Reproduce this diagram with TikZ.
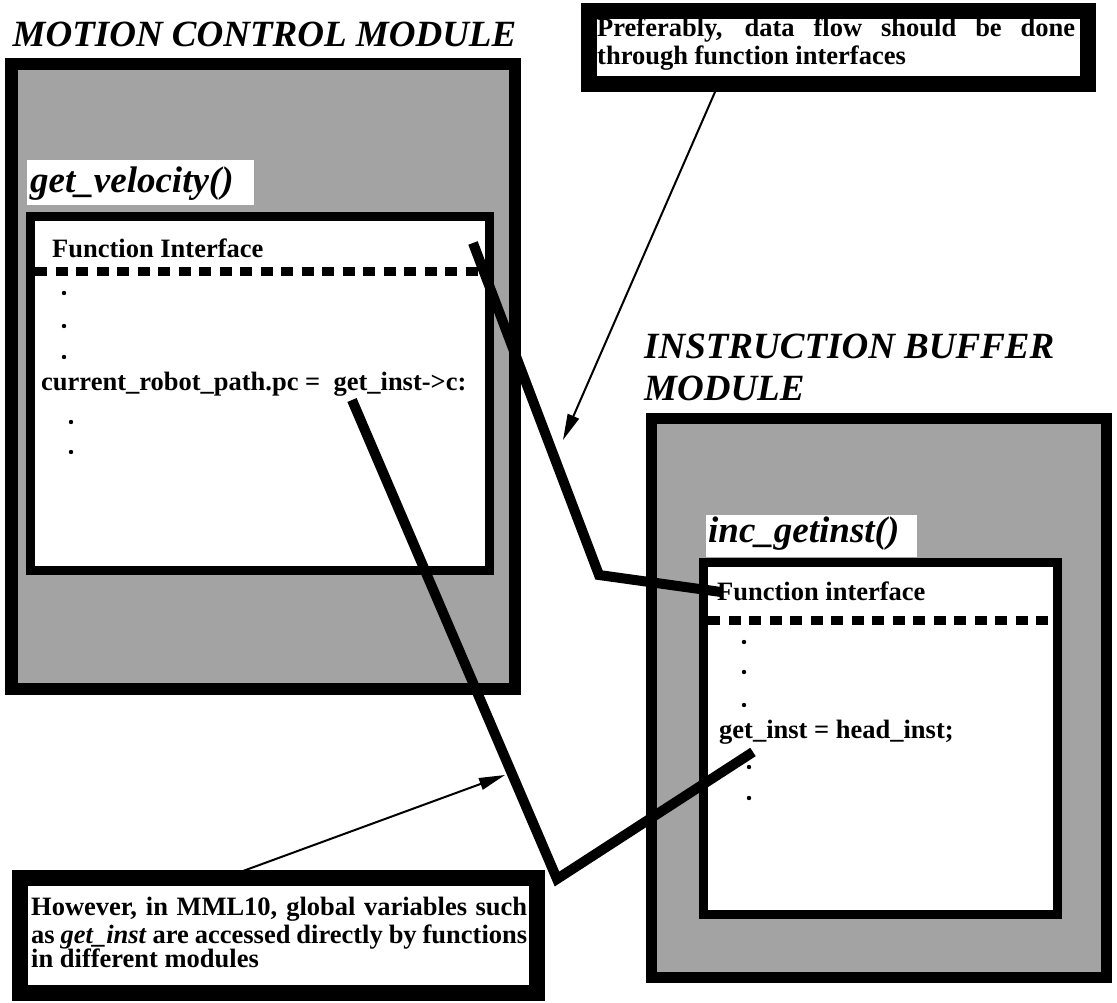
\documentclass[tikz,border=0pt]{standalone}
\usepackage{fontspec}
\setmainfont{Liberation Serif}
\usetikzlibrary{arrows.meta}
\definecolor{screen}{gray}{0.64}
\tikzset{
  x=1pt, y=-1pt,
  frame/.style={draw=black, fill=screen, inner sep=0pt, outer sep=0pt, anchor=north west},
  panel/.style={draw=black, fill=white, line width=9pt, inner sep=0pt, outer sep=0pt, anchor=north west},
  notebox/.style={draw=black, fill=white, line width=16pt, inner sep=0pt, outer sep=0pt, anchor=north west},
  heading/.style={anchor=base west, inner sep=0pt, font=\fontsize{37}{40}\selectfont\bfseries\itshape},
  body/.style={anchor=base west, inner sep=0pt, font=\fontsize{26.5}{28}\selectfont\bfseries},
  separator/.style={line width=9pt, dash pattern=on 12pt off 8.5pt},
  link/.style={line width=10pt, line join=miter},
  pointer/.style={line width=2pt, -{Triangle[length=26pt,width=12pt]}},
}
\begin{document}
\begin{tikzpicture}
\useasboundingbox (0,0) rectangle (1117,1003);
\fill[white] (0,0) rectangle (1117,1003);

% ---------- motion control module ----------
\node[heading] (mcm) at (12.5,47) {MOTION CONTROL MODULE};
\node[frame, line width=12.5pt, minimum width=503.5pt, minimum height=624.5pt] (mcbox) at (11.25,64.25) {};
\fill[white] (27,160) rectangle (254,205);
\node[heading] (gv) at (30,193) {get\_velocity()};
\node[panel, minimum width=459pt, minimum height=354pt] (gvbox) at (30.5,216.5) {};
\node[body] (fi1) at (52,258) {Function Interface};
\draw[separator] (35,272) -- (486,272);
\foreach \yy in {293,326,357} \fill (64,\yy) circle (2.2pt);
\node[body] (code1) at (41,390) {current\_robot\_path.pc =\ \ get\_inst->c:};
\foreach \yy in {422,452} \fill (71,\yy) circle (2.2pt);

% ---------- instruction buffer module ----------
\node[heading] (ibm1) at (644,358) {INSTRUCTION BUFFER};
\node[heading] (ibm2) at (644,400) {MODULE};
\node[frame, line width=11pt, minimum width=455pt, minimum height=559pt] (ibbox) at (651.5,418.5) {};
\fill[white] (706,515) rectangle (917,557);
\node[heading] (ig) at (708,542) {inc\_getinst()};
\node[panel, minimum width=354pt, minimum height=352pt] (igbox) at (703.5,562.5) {};
\node[body] (fi2) at (717,600) {Function interface};
\draw[separator] (708,620) -- (1054,620);
\foreach \yy in {642,672,705} \fill (744,\yy) circle (2.2pt);
\node[body] (code2) at (719,738) {get\_inst = head\_inst;};
\foreach \yy in {767,798} \fill (749,\yy) circle (2.2pt);

% ---------- explanatory notes ----------
\node[notebox, minimum width=499pt, minimum height=73pt] (pref) at (589,11) {};
\node[body] (pref1) at (597,37) {\makebox[478pt][s]{Preferably, data flow should be done}};
\node[body] (pref2) at (597,65) {through function interfaces};

\node[notebox, minimum width=517pt, minimum height=115pt] (how) at (20,878) {};
\node[body] (how1) at (31,915) {\makebox[496pt][s]{However, in MML10, global variables such}};
\node[body] (how2) at (31,943) {\makebox[496pt][s]{as \textit{get\_inst} are accessed directly by functions}};
\node[body] (how3) at (31,967) {in different modules};

% ---------- data flow connections ----------
\coordinate (ifA) at (473,243);
\coordinate (ifBend) at (599,575);
\coordinate (ifB) at (721,592);
\draw[link] (ifA) -- (ifBend) -- (ifB);

\coordinate (glA) at (352,400);
\coordinate (glBend) at (557,879);
\coordinate (glB) at (753,752);
\draw[link] (glA) -- (glBend) -- (glB);

% ---------- callout arrows ----------
\coordinate (prefOut) at (715,92);
\coordinate (prefTip) at (563,440);
\draw[pointer] (prefOut) -- (prefTip);
\coordinate (howOut) at (243,871);
\coordinate (howTip) at (505,775);
\draw[pointer] (howOut) -- (howTip);
\end{tikzpicture}
\end{document}
